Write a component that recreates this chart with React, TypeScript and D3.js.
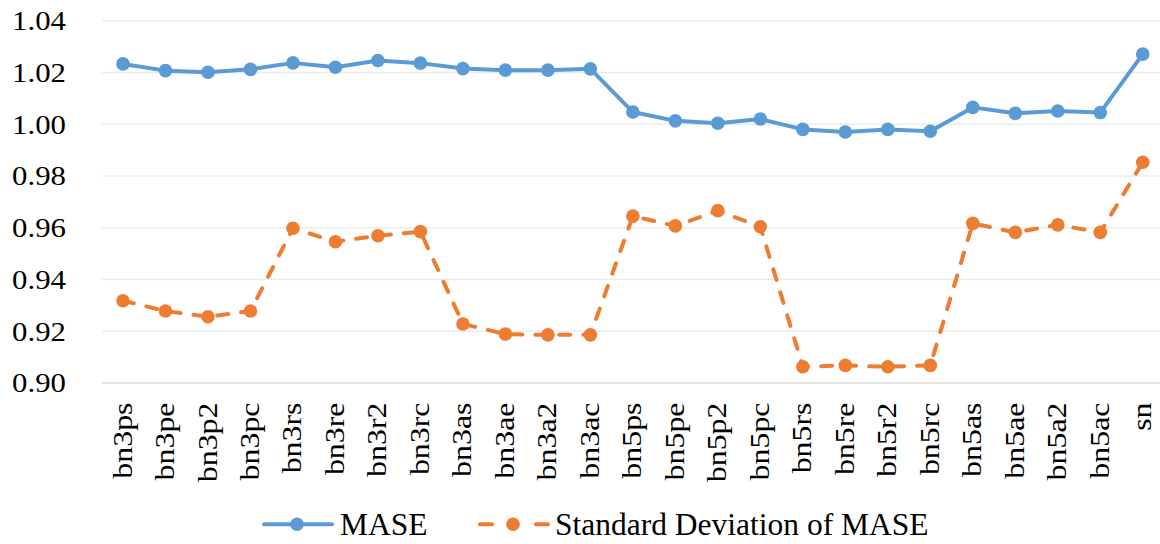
import React from "react";
import * as d3 from "d3";

const categories = [
  "bn3ps", "bn3pe", "bn3p2", "bn3pc", "bn3rs", "bn3re", "bn3r2", "bn3rc",
  "bn3as", "bn3ae", "bn3a2", "bn3ac", "bn5ps", "bn5pe", "bn5p2", "bn5pc",
  "bn5rs", "bn5re", "bn5r2", "bn5rc", "bn5as", "bn5ae", "bn5a2", "bn5ac", "sn",
];
const maseValues = [
  1.0233, 1.0207, 1.0201, 1.0212, 1.0237, 1.022, 1.0246, 1.0236,
  1.0215, 1.0209, 1.0209, 1.0214, 1.0047, 1.0013, 1.0004, 1.002,
  0.998, 0.997, 0.998, 0.9973, 1.0065, 1.0042, 1.0051, 1.0045, 1.0271,
];
const stdValues = [
  0.9318, 0.9278, 0.9256, 0.9278, 0.9598, 0.9546, 0.9569, 0.9585,
  0.9228, 0.9189, 0.9186, 0.9186, 0.9645, 0.9607, 0.9666, 0.9604,
  0.9063, 0.9068, 0.9063, 0.9068, 0.9617, 0.9582, 0.9611, 0.9582, 0.9853,
];
const yTicks = [0.9, 0.92, 0.94, 0.96, 0.98, 1.0, 1.02, 1.04];
const seriesNames = ["MASE", "Standard Deviation of MASE"];

const W = 1160;
const H = 544;
const BLUE = "#5B9BD5";
const ORANGE = "#ED7D31";
const FONT = "Liberation Serif, DejaVu Serif, serif";

export default function App() {
  const x = d3.scaleBand<string>().domain(categories).range([101.75, 1164]);
  const y = d3.scaleLinear().domain([0.9, 1.04]).range([383, 20.7]);
  const cx = (c: string) => (x(c) ?? 0) + x.bandwidth() / 2;
  const line = d3
    .line<number>()
    .x((_, i) => cx(categories[i]))
    .y((d) => y(d));
  const ts = { fontFamily: FONT };
  const LY = 524.3;

  return (
    <svg
      width={W}
      height={H}
      style={{ position: "fixed", left: 0, top: 0, background: "#fff", fontFamily: FONT }}
    >
      {yTicks.map((t) => (
        <g key={t}>
          <line
            x1={102}
            x2={W}
            y1={y(t)}
            y2={y(t)}
            stroke={t === 0.9 ? "#D9D9D9" : "#EBEBEB"}
            strokeWidth={1.5}
          />
          <text
            transform={`translate(66,${y(t)}) scale(1.12,1)`}
            dy="0.34em"
            textAnchor="end"
            fontSize={27.5}
            fill="#000"
            style={ts}
          >
            {d3.format(".2f")(t)}
          </text>
        </g>
      ))}
      {categories.map((c) => (
        <text
          key={c}
          transform={`translate(${cx(c)},402.5) rotate(-90) scale(1.16,1)`}
          dy="0.31em"
          textAnchor="end"
          fontSize={27.5}
          fill="#000"
          style={ts}
        >
          {c}
        </text>
      ))}
      <path d={line(maseValues) ?? ""} fill="none" stroke={BLUE} strokeWidth={4} strokeLinejoin="round" />
      {maseValues.map((v, i) => (
        <circle key={i} cx={cx(categories[i])} cy={y(v)} r={6.8} fill={BLUE} />
      ))}
      <path
        d={line(stdValues) ?? ""}
        fill="none"
        stroke={ORANGE}
        strokeWidth={4}
        strokeDasharray="11 13"
        strokeLinecap="round"
      />
      {stdValues.map((v, i) => (
        <circle key={i} cx={cx(categories[i])} cy={y(v)} r={6.8} fill={ORANGE} />
      ))}
      <g>
        <line x1={264} x2={332} y1={LY} y2={LY} stroke={BLUE} strokeWidth={4} strokeLinecap="round" />
        <circle cx={297} cy={LY} r={6.8} fill={BLUE} />
        <text x={340} y={LY} dy="0.34em" fontSize={31.5} fill="#000" style={ts}>
          {seriesNames[0]}
        </text>
        <line x1={480} x2={492} y1={LY} y2={LY} stroke={ORANGE} strokeWidth={4} strokeLinecap="round" />
        <circle cx={513} cy={LY} r={6.8} fill={ORANGE} />
        <line x1={536} x2={548} y1={LY} y2={LY} stroke={ORANGE} strokeWidth={4} strokeLinecap="round" />
        <text x={555} y={LY} dy="0.34em" fontSize={31.5} fill="#000" style={ts}>
          {seriesNames[1]}
        </text>
      </g>
    </svg>
  );
}
